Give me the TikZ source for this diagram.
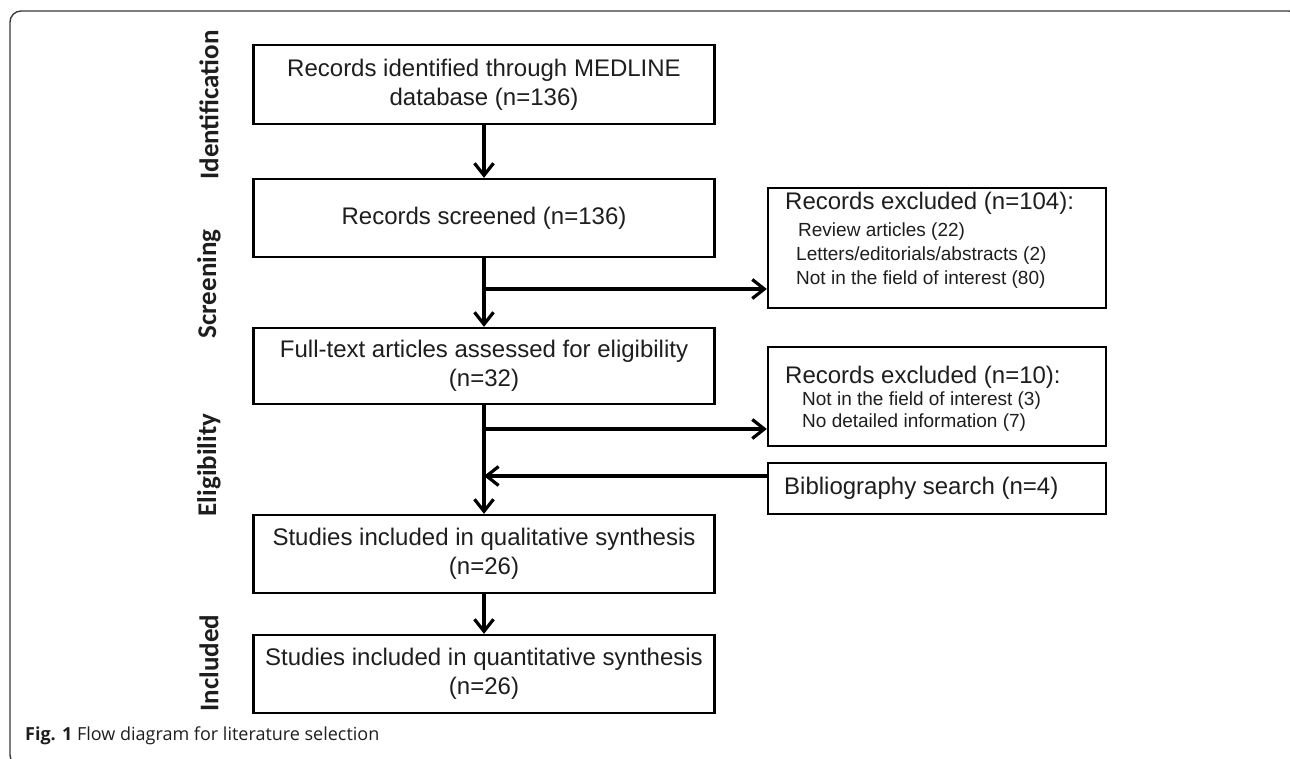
\documentclass[tikz,border=0pt]{standalone}
\usepackage{fontspec}
\setmainfont{Liberation Sans}
\newfontfamily\labfont{Carlito}
\newfontfamily\capfont{Open Sans}
\usetikzlibrary{arrows.meta,calc}
\definecolor{txt}{HTML}{1E1E1E}
\definecolor{framec}{HTML}{3A3A3A}
\begin{document}
\begin{tikzpicture}[x=1pt,y=-1pt,
  box/.style={draw=black, line width=2.3pt, minimum width=461pt, inner sep=0pt,
    align=center, text=txt, font=\fontsize{24}{29}\selectfont},
  rbox/.style={draw=black, line width=2.3pt, minimum width=338pt, inner sep=0pt},
  hdr/.style={anchor=west, inner sep=0pt, text=txt, font=\fontsize{24}{29}\selectfont},
  item/.style={anchor=west, inner sep=0pt, text=txt, font=\fontsize{19}{23}\selectfont},
  phase/.style={rotate=90, inner sep=0pt, text=txt, font=\labfont\bfseries\fontsize{27}{30}\selectfont},
  arr/.style={line width=3.2pt, -{Straight Barb[length=12pt,width=19pt]}},
  frame/.style={draw=framec, line width=1.4pt, rounded corners=11pt}]
\useasboundingbox (0,0) rectangle (1290,759);
\fill[white] (0,0) rectangle (1290,759);
% outer frame
\draw[frame] (1300,40) -- (1300,11) -- (10,11) -- (10,766) -- (40,766);
% phase labels
\node[phase] (pid) at (209,105) {Identification};
\node[phase] (psc) at (209,284) {Screening};
\node[phase] (pel) at (209,465) {Eligibility};
\node[phase] (pin) at (209,663) {Included};
% main boxes
\node[box, minimum height=79pt] (b1) at (484,84.5) {Records identified through MEDLINE\\database (n=136)};
\node[box, minimum height=78pt] (b2) at (484,218) {Records screened (n=136)};
\node[box, minimum height=76pt] (b3) at (484,366) {Full-text articles assessed for eligibility\\(n=32)};
\node[box, minimum height=78pt] (b4) at (484,554) {Studies included in qualitative synthesis\\(n=26)};
\node[box, minimum height=78pt] (b5) at (484,674) {Studies included in quantitative synthesis\\(n=26)};
% right boxes
\node[rbox, minimum height=120pt] (r1) at (937,248) {};
\node[hdr] (r1h) at (785,203) {Records excluded (n=104):};
\node[item] (r1a) at (798,232) {Review articles (22)};
\node[item] (r1b) at (796,256) {Letters/editorials/abstracts (2)};
\node[item] (r1c) at (796,280) {Not in the field of interest (80)};
\node[rbox, minimum height=99pt] (r2) at (937,396.5) {};
\node[hdr] (r2h) at (785,377) {Records excluded (n=10):};
\node[item] (r2a) at (802,401) {Not in the field of interest (3)};
\node[item] (r2b) at (802,423) {No detailed information (7)};
\node[rbox, minimum height=51pt] (r3) at (937,488.5) {};
\node[hdr] (r3t) at (784,488) {Bibliography search (n=4)};
% connectors
\coordinate (j1) at (484,289);
\coordinate (j2) at (484,429);
\coordinate (j3) at (484,476);
\draw[arr] (b1.south) -- (b2.north);
\draw[arr] (b2.south) -- (b3.north);
\draw[arr] (j1) -- (j1 -| r1.west);
\draw[arr] (b3.south) -- (b4.north);
\draw[arr] (j2) -- (j2 -| r2.west);
\draw[arr] (j3 -| r3.west) -- (j3);
\draw[arr] (b4.south) -- (b5.north);
% caption
\node[anchor=base west, inner sep=0pt, text=txt, font=\capfont\fontsize{18}{21}\selectfont] (cap) at (25,740) {\textbf{Fig. 1} Flow diagram for literature selection};
\end{tikzpicture}
\end{document}
